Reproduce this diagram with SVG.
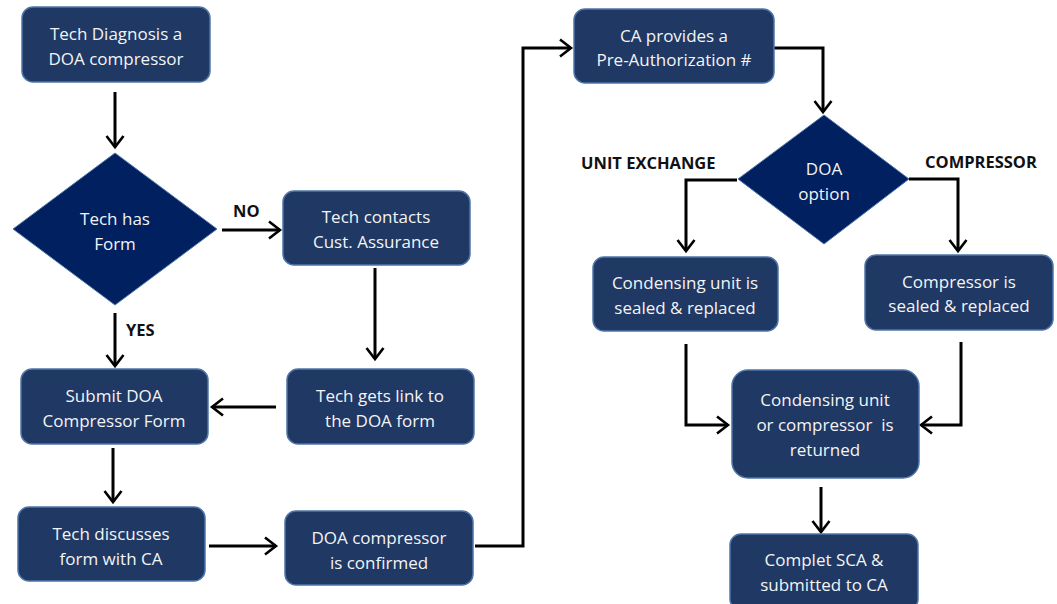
<svg xmlns="http://www.w3.org/2000/svg" width="1057" height="604" viewBox="0 0 1057 604">
<defs>
<style>
.box{fill:#1f3864;stroke:#4f76a8;stroke-width:1.5}
.dia{fill:#002060;stroke:#4f76a8;stroke-width:1}
.t{font-family:"Open Sans","Noto Sans",sans-serif;font-size:17px;fill:#f4f4f4;text-anchor:middle;dominant-baseline:central}
.lbl{font-family:"Open Sans","Noto Sans",sans-serif;font-size:16.5px;font-weight:bold;fill:#111;dominant-baseline:central}
.c{fill:none;stroke:#000;stroke-width:3;marker-end:url(#ah)}
</style>
<marker id="ah" markerUnits="userSpaceOnUse" markerWidth="24" markerHeight="24" viewBox="-14 -12 16 24" refX="0" refY="0" orient="auto">
<path d="M-11,-8.5 L0,0 L-11,8.5" fill="none" stroke="#000" stroke-width="2.6"/>
</marker>
</defs>
<rect width="1057" height="604" fill="#ffffff"/>
<g id="connectors">
<path class="c" d="M115,92 V147"/>
<path class="c" d="M222,230 H280"/>
<path class="c" d="M375,268 V359"/>
<path class="c" d="M276,407 H212"/>
<path class="c" d="M115,313 V366"/>
<path class="c" d="M113,448 V502"/>
<path class="c" d="M209,546 H276"/>
<path class="c" d="M475,546 H523 V48 H571"/>
<path class="c" d="M774,48 H823 V112"/>
<path class="c" d="M737,180 H686 V251"/>
<path class="c" d="M909,179 H958 V251"/>
<path class="c" d="M686,344 V425 H728"/>
<path class="c" d="M961,342 V425 H921"/>
<path class="c" d="M821,487 V532"/>
<text class="lbl" x="233" y="210">NO</text>
<text class="lbl" x="126" y="329">YES</text>
<text class="lbl" x="581" y="162">UNIT EXCHANGE</text>
<text class="lbl" x="925" y="161">COMPRESSOR</text>
</g>
<g id="n1"><rect class="box" x="22" y="7" width="188" height="75" rx="11"/><text class="t" x="116" y="33">Tech Diagnosis a</text><text class="t" x="116" y="58">DOA compressor</text></g>
<g id="d1"><polygon class="dia" points="115,153 217,229 115,305 13,229"/><text class="t" x="115" y="218">Tech has</text><text class="t" x="115" y="243">Form</text></g>
<g id="n2"><rect class="box" x="283" y="191" width="187" height="74" rx="11"/><text class="t" x="376" y="216">Tech contacts</text><text class="t" x="376" y="241">Cust. Assurance</text></g>
<g id="n3"><rect class="box" x="287" y="369" width="187" height="75" rx="11"/><text class="t" x="380" y="395">Tech gets link to</text><text class="t" x="380" y="420">the DOA form</text></g>
<g id="n4"><rect class="box" x="21" y="369" width="187" height="75" rx="11"/><text class="t" x="114" y="395">Submit DOA</text><text class="t" x="114" y="420">Compressor Form</text></g>
<g id="n5"><rect class="box" x="18" y="507" width="187" height="74" rx="11"/><text class="t" x="111" y="533">Tech discusses</text><text class="t" x="111" y="558">form with CA</text></g>
<g id="n6"><rect class="box" x="285" y="511" width="188" height="74" rx="11"/><text class="t" x="379" y="537">DOA compressor</text><text class="t" x="379" y="562">is confirmed</text></g>
<g id="n7"><rect class="box" x="574" y="9" width="200" height="74" rx="11"/><text class="t" x="674" y="35">CA provides a</text><text class="t" x="674" y="59">Pre-Authorization #</text></g>
<g id="d2"><polygon class="dia" points="824,115 909,179 824,244 738,179"/><text class="t" x="824" y="168">DOA</text><text class="t" x="824" y="193">option</text></g>
<g id="n8"><rect class="box" x="593" y="257" width="185" height="74" rx="11"/><text class="t" x="685" y="282">Condensing unit is</text><text class="t" x="685" y="307">sealed &amp; replaced</text></g>
<g id="n9"><rect class="box" x="865" y="255" width="188" height="75" rx="11"/><text class="t" x="959" y="281">Compressor is</text><text class="t" x="959" y="305">sealed &amp; replaced</text></g>
<g id="n10"><rect class="box" x="732" y="370" width="187" height="108" rx="16"/><text class="t" x="825" y="399">Condensing unit</text><text class="t" x="825" y="424" style="white-space:pre">or compressor  is</text><text class="t" x="825" y="449">returned</text></g>
<g id="n11"><rect class="box" x="730" y="534" width="188" height="76" rx="11"/><text class="t" x="824" y="559">Complet SCA &amp;</text><text class="t" x="824" y="584">submitted to CA</text></g>
</svg>
